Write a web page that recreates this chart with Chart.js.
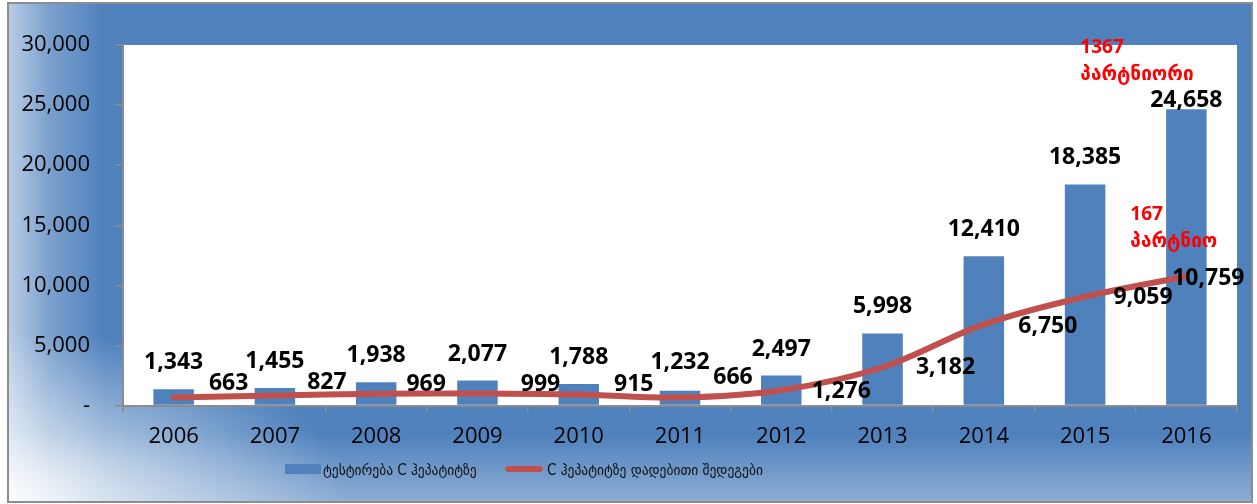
<!DOCTYPE html>
<html lang="ka">
<head>
  <meta charset="UTF-8">
  <title>C ჰეპატიტზე ტესტირება</title>
  <script src="https://cdn.jsdelivr.net/npm/chart.js"></script>
  <style>
    body {
      margin: 0;
      width: 1257px;
      height: 504px;
      overflow: hidden;
      position: relative;
      background: #fff;
    }

    #frame {
      position: absolute;
      left: 7px;
      top: 2px;
      width: 1246px;
      height: 501px;
      box-sizing: border-box;
      border: 2px solid #8d8d8d;
      background:
        radial-gradient(ellipse 340px 170px at 0% 100%, rgba(255,255,255,0.9), rgba(255,255,255,0) 100%),
        linear-gradient(to right, rgba(255,255,255,0.6) 0px, rgba(255,255,255,0.25) 40px, rgba(255,255,255,0) 95px),
        linear-gradient(to bottom, rgba(255,255,255,0) 430px, rgba(255,255,255,0.35) 100%),
        #4f81bd;
    }

    #myChart {
      position: absolute;
      left: 0;
      top: 0;
    }

    .legend-item {
      position: absolute;
      top: 459px;
      font-family: 'DejaVu Sans Condensed', 'DejaVu Sans', sans-serif;
      font-size: 15px;
      line-height: 22px;
      color: #111;
      white-space: nowrap;
    }

    .legend-item .swatch {
      position: absolute;
      left: 0;
    }
  </style>
</head>
<body>
  <div id="frame"></div>
  <canvas id="myChart" width="1257" height="504"></canvas>

  <div class="legend-item" style="left:285px; padding-left:38px;">
    <span class="swatch" style="top:5px; width:36px; height:10px; background:#4f81bd;"></span>
    <span id="legend0"></span>
  </div>
  <div class="legend-item" style="left:505px; padding-left:42px;">
    <span class="swatch" style="top:7px; width:38px; height:6px; border-radius:3px; background:#c0504d;"></span>
    <span id="legend1"></span>
  </div>

  <script>
    const years = ['2006', '2007', '2008', '2009', '2010', '2011', '2012', '2013', '2014', '2015', '2016'];
    const tests = [1343, 1455, 1938, 2077, 1788, 1232, 2497, 5998, 12410, 18385, 24658];
    const positives = [663, 827, 969, 999, 915, 666, 1276, 3182, 6750, 9059, 10759];
    const seriesNames = ['ტესტირება C ჰეპატიტზე', 'C ჰეპატიტზე დადებითი შედეგები'];
    const yTicks = { min: 0, max: 30000, step: 5000 };

    // red notes near 2016 (text, value on y axis where the line sits)
    const notes = [
      { text: '1367', value: 29750, dx: -106 },
      { text: 'პარტნიორი', value: 27500, dx: -106 },
      { text: '167', value: 15870, dx: -56 },
      { text: 'პარტნიო', value: 13630, dx: -56 }
    ];

    // label placement (style only)
    const barLabelGap = [27, 27, 27, 26, 27, 28, 26, 27, 27, 27, 9];
    const lineLabelShift = [[55, -14], [52, -13], [50, -9], [63, -9], [55, -10], [53, -20], [60, 1], [63, 0], [64, 2], [58, 1], [22, 2]];

    document.getElementById('legend0').textContent = seriesNames[0];
    document.getElementById('legend1').textContent = seriesNames[1];

    const fmt = v => v.toLocaleString('en-US');
    const numFont = '"Open Sans", "Liberation Sans", "DejaVu Sans", sans-serif';

    const plotBackground = {
      id: 'plotBackground',
      beforeDraw(chart) {
        const { ctx, chartArea: a } = chart;
        ctx.save();
        ctx.fillStyle = '#ffffff';
        ctx.fillRect(a.left, a.top, a.right - a.left, a.bottom - a.top);
        ctx.restore();
      }
    };

    const valueLabels = {
      id: 'valueLabels',
      afterDatasetsDraw(chart) {
        const ctx = chart.ctx;
        ctx.save();
        ctx.font = 'bold 23px ' + numFont;
        ctx.fillStyle = '#000';
        ctx.textAlign = 'center';
        ctx.textBaseline = 'middle';

        chart.getDatasetMeta(0).data.forEach((el, i) => {
          ctx.fillText(fmt(tests[i]), el.x, el.y - barLabelGap[i]);
        });
        chart.getDatasetMeta(1).data.forEach((el, i) => {
          const [dx, dy] = lineLabelShift[i];
          ctx.fillText(fmt(positives[i]), el.x + dx, el.y + dy);
        });

        const xs = chart.scales.x;
        const ys = chart.scales.y;
        const lastX = xs.getPixelForValue(years.length - 1);
        ctx.font = 'bold 19px ' + numFont;
        ctx.fillStyle = '#ff0000';
        ctx.textAlign = 'left';
        notes.forEach(n => {
          ctx.fillText(n.text, lastX + n.dx, ys.getPixelForValue(n.value));
        });
        ctx.restore();
      }
    };

    const ctx = document.getElementById('myChart').getContext('2d');
    const myChart = new Chart(ctx, {
      data: {
        labels: years,
        datasets: [
          {
            type: 'bar',
            label: seriesNames[0],
            data: tests,
            backgroundColor: '#4f81bd',
            categoryPercentage: 1,
            barPercentage: 0.4,
            order: 1
          },
          {
            type: 'line',
            label: seriesNames[1],
            data: positives,
            borderColor: '#c0504d',
            borderWidth: 6,
            borderCapStyle: 'round',
            pointRadius: 0,
            tension: 0.35,
            order: 0
          }
        ]
      },
      options: {
        responsive: false,
        animation: false,
        layout: {
          padding: { left: 0, top: 45, right: 20, bottom: 0 }
        },
        plugins: {
          legend: { display: false },
          tooltip: { enabled: false }
        },
        scales: {
          x: {
            afterFit(scale) { scale.height = 98.5; },
            border: { display: true, color: '#8c8c8c', width: 2 },
            grid: {
              offset: true,
              drawOnChartArea: false,
              drawTicks: true,
              tickLength: 7,
              color: '#8c8c8c',
              lineWidth: 1.5
            },
            ticks: {
              color: '#000',
              padding: 11,
              font: { family: numFont, size: 22 }
            }
          },
          y: {
            min: yTicks.min,
            max: yTicks.max,
            afterFit(scale) { scale.width = 123; },
            border: { display: true, color: '#8c8c8c', width: 2 },
            grid: {
              drawOnChartArea: false,
              drawTicks: true,
              tickLength: 8,
              color: '#8c8c8c',
              lineWidth: 1.5
            },
            ticks: {
              stepSize: yTicks.step,
              color: '#000',
              padding: 25,
              font: { family: numFont, size: 22 },
              callback: v => v === 0 ? '-' : fmt(v)
            }
          }
        }
      },
      plugins: [plotBackground, valueLabels]
    });
  </script>
</body>
</html>
